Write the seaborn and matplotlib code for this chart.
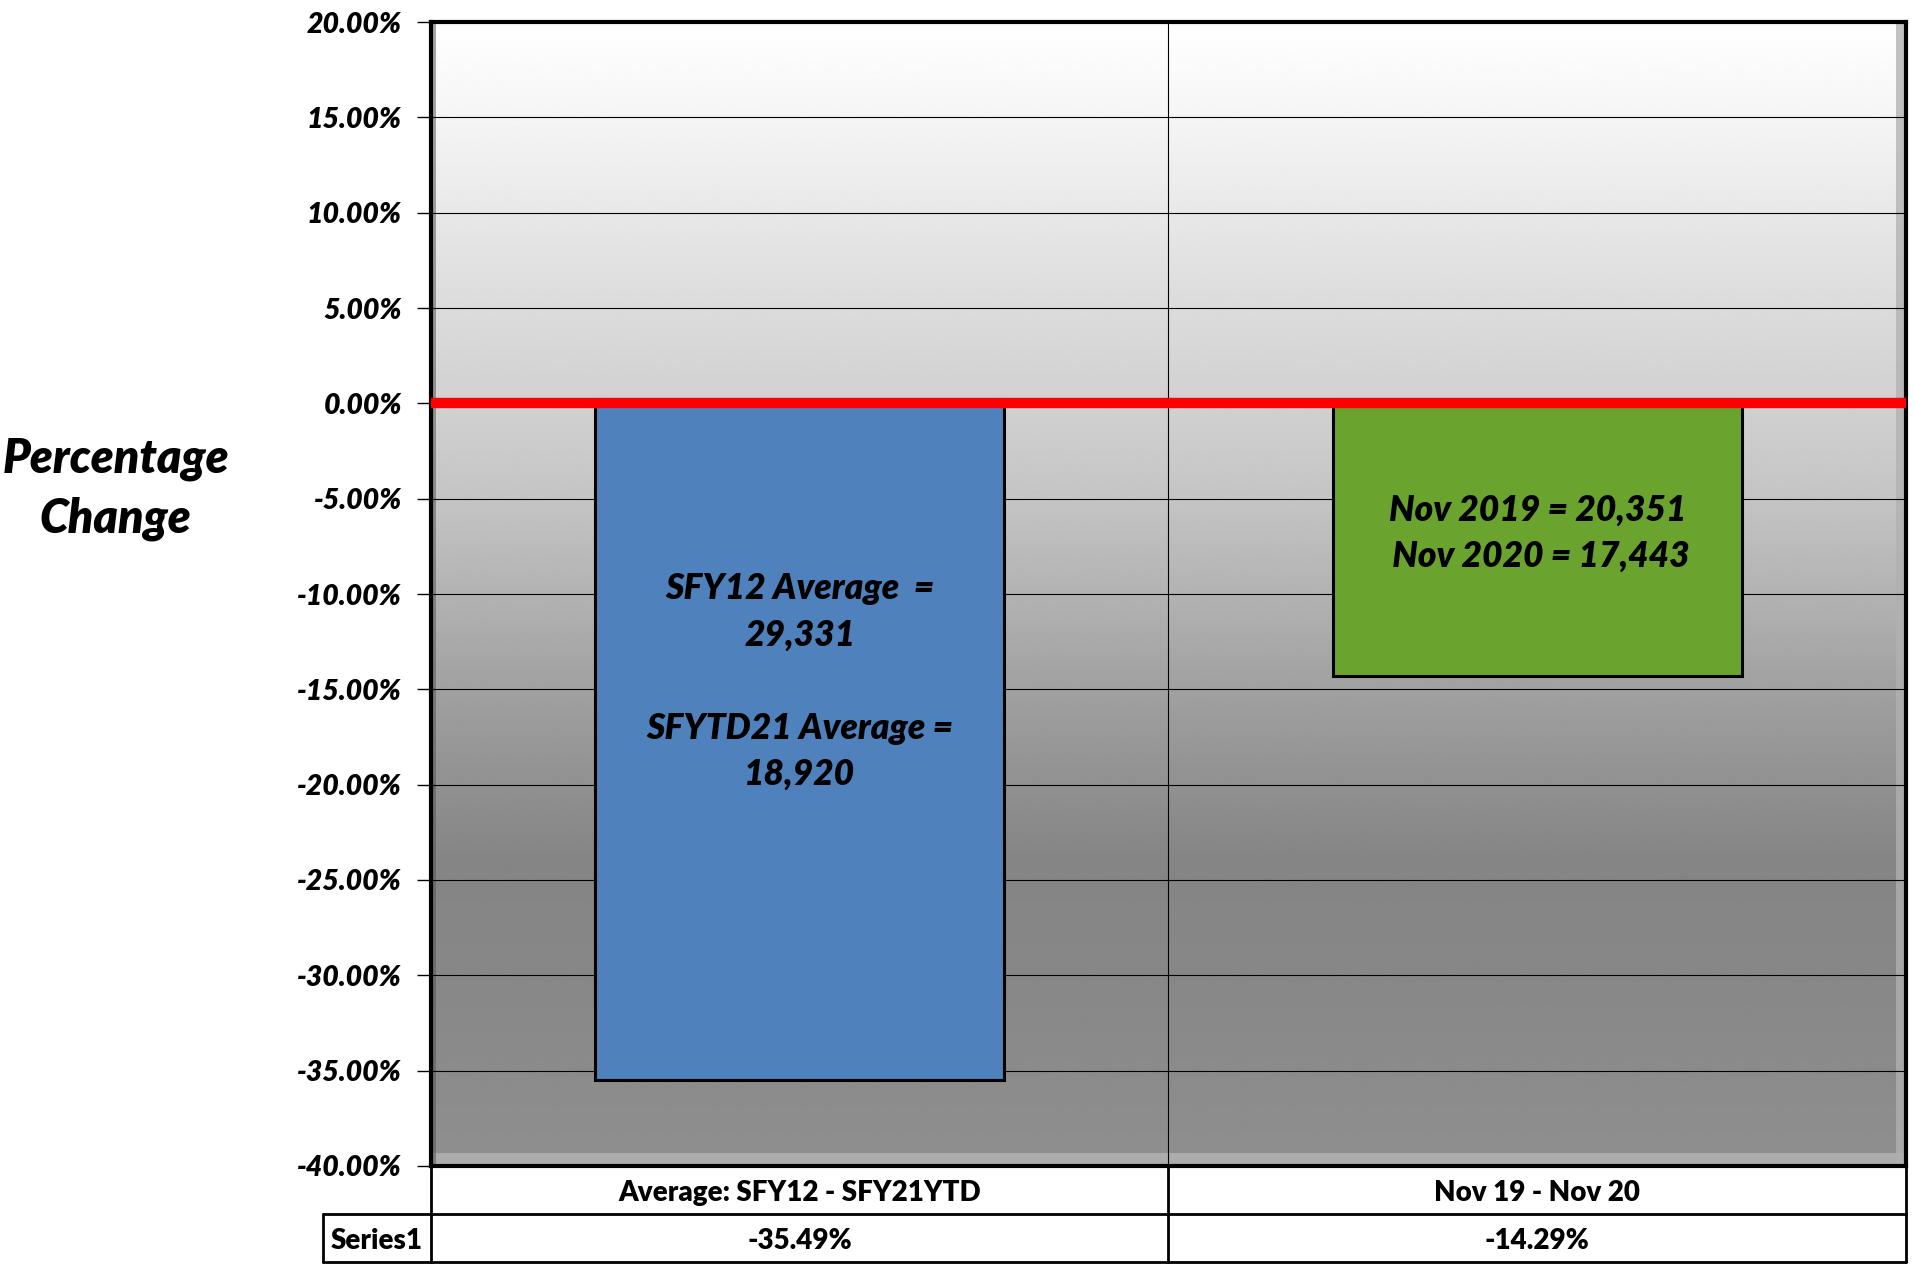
import matplotlib
matplotlib.use("Agg")
import matplotlib.pyplot as plt
import matplotlib.patheffects as pe
import seaborn as sns
import pandas as pd
import numpy as np

# data
categories = ["Average: SFY12 - SFY21YTD", "Nov 19 - Nov 20"]
values = [-35.49, -14.29]
series_name = "Series1"
value_labels = ["-35.49%", "-14.29%"]
bar_colors = ["#4F81BD", "#6AA42E"]
bar_notes = ["SFY12 Average  =\n29,331\n\nSFYTD21 Average =\n18,920",
             "Nov 2019 = 20,351\n Nov 2020 = 17,443"]
note_y = [-14.6, -6.8]
yticks = np.arange(-40, 21, 5)

sns.set_theme(style="white")
plt.rcParams["font.family"] = ["Lato", "DejaVu Sans"]
plt.rcParams["text.color"] = "black"
plt.rcParams["ytick.color"] = "black"
plt.rcParams["ytick.labelcolor"] = "black"
W = "heavy"

fig = plt.figure(figsize=(19.13, 12.66), dpi=100)
ax = fig.add_axes([0.2253, 0.0790, 0.7710, 0.9036])

# gradient background (white at top to grey at bottom)
gy = np.linspace(20, -40, 400)
gv = np.interp(gy, [-40, -30, -24, -15, -5, 0, 5, 10, 15, 20],
               [0.56, 0.53, 0.52, 0.63, 0.77, 0.82, 0.86, 0.91, 0.96, 1.0])
ax.imshow(gv[:, None], cmap="gray", vmin=0, vmax=1, aspect="auto",
          extent=[-0.5, 1.5, -40, 20], zorder=0, interpolation="bilinear")
# light bevel along bottom and right edges
ax.axhspan(-40, -39.3, color="#bdbdbd", alpha=0.8, zorder=0.5, lw=0)
ax.axvspan(1.487, 1.5, color="#c4c4c4", alpha=0.7, zorder=0.5, lw=0)
ax.axvspan(-0.5, -0.493, color="#7a7a7a", alpha=0.35, zorder=0.5, lw=0)

df = pd.DataFrame({"category": categories, "value": values})
sns.barplot(data=df, x="category", y="value", hue="category",
            palette=bar_colors, saturation=1, legend=False, width=0.555, ax=ax,
            edgecolor="black", linewidth=2.2, zorder=3)
for p in ax.patches:
    p.set_path_effects([pe.SimplePatchShadow(offset=(0, 0), shadow_rgbFace="black", alpha=0.25),
                        pe.Normal()])

ax.axhline(0, color="#FF0000", lw=7.5, zorder=4)

ax.set_xlim(-0.5, 1.5)
ax.set_ylim(-40, 20)
ax.set_yticks(yticks)
ax.set_yticklabels([f"{v:.2f}%" for v in yticks], fontsize=20.5,
                   fontweight=W, fontstyle="italic")
ax.tick_params(axis="y", direction="out", length=10, width=1, pad=11, left=True,
               colors="black")
ax.set_xticks([])
ax.set_xlabel("")
ax.set_ylabel("")
ax.grid(axis="y", color="black", lw=0.8, zorder=1)
ax.set_axisbelow(True)
ax.axvline(0.5, color="black", lw=0.8, zorder=1)
for s in ax.spines.values():
    s.set_color("black")
    s.set_linewidth(3)
    s.set_visible(True)

for i, txt in enumerate(bar_notes):
    ax.text(i, note_y[i], txt, ha="center", va="center", fontsize=25.5,
            fontweight=W, fontstyle="italic", linespacing=1.5, zorder=5)

fig.text(0.0605, 0.6135, "Percentage\nChange", ha="center", va="center",
         fontsize=33.5, fontweight=W, fontstyle="italic", linespacing=1.42)

# data table under the axes
row_h = 48 / 1144
lab_w = 108 / 1475
tr = ax.transAxes
lkw = dict(transform=tr, color="black", lw=2, clip_on=False)
ax.plot([0, 0], [0, -row_h], **lkw)
ax.plot([-lab_w, 1], [-row_h, -row_h], **lkw)
ax.plot([-lab_w, 1], [-2 * row_h, -2 * row_h], **lkw)
ax.plot([-lab_w, -lab_w], [-row_h, -2 * row_h], **lkw)
ax.plot([0, 0], [-row_h, -2 * row_h], **lkw)
ax.plot([0.5, 0.5], [0, -2 * row_h], **lkw)
ax.plot([1, 1], [0, -2 * row_h], **lkw)
dy = 0.003
for i, (c, v) in enumerate(zip(categories, value_labels)):
    ax.text(0.25 + 0.5 * i, -row_h / 2 - dy, c, transform=tr, ha="center", va="center",
            fontsize=20, fontweight=W)
    ax.text(0.25 + 0.5 * i, -1.5 * row_h - dy, v, transform=tr, ha="center", va="center",
            fontsize=20, fontweight=W)
ax.text(-lab_w / 2, -1.5 * row_h - dy, series_name, transform=tr, ha="center",
        va="center", fontsize=20, fontweight=W)

fig.savefig("out.png", dpi=100)
